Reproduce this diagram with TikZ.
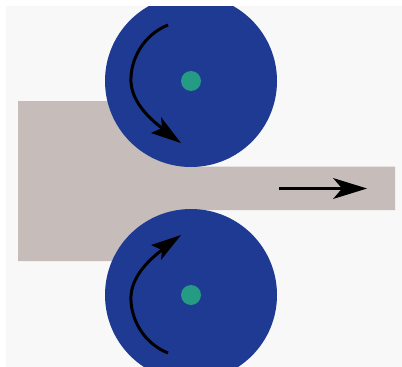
\documentclass[tikz,border=0pt]{standalone}
\definecolor{panelbg}{HTML}{F8F8F8}
\definecolor{slabc}{HTML}{C6BDBB}
\definecolor{rollc}{HTML}{1F3A93}
\definecolor{axlec}{HTML}{259B84}
\tikzset{
  x=1pt,y=-1pt,
  rollshape/.style={fill=rollc,draw=none},
  axleshape/.style={fill=axlec,draw=none},
  shaft/.style={draw=black,line width=3pt},
  headshape/.style={fill=black,draw=none}
}
\begin{document}
\begin{tikzpicture}
\useasboundingbox (0,0) rectangle (402,367);
\fill[white] (0,0) rectangle (402,367);
\begin{scope}
\clip (6,6) rectangle (402,367);
\fill[panelbg] (6,6) rectangle (402,367);
\fill[slabc] (18,101) -- (191,101) -- (191,166.5) -- (395,166.5) -- (395,210) -- (191,210) -- (191,261) -- (18,261) -- cycle;
\fill[rollshape] (191,81) circle[radius=86];
\fill[rollshape] (191,295) circle[radius=86];
\end{scope}
\fill[axleshape] (191,81) circle[radius=10];
\fill[axleshape] (191,295) circle[radius=10];
\coordinate (s1) at (168,25);
\coordinate (n1) at (162,128);
\coordinate (s2) at (168,353);
\coordinate (n2) at (162,250);
\coordinate (s3) at (279,188.5);
\coordinate (n3) at (342,188.5);
\draw[shaft] (s1) .. controls (143,35) and (130,60) .. (131,82) .. controls (132,100) and (146,116) .. (n1);
\fill[headshape] (181,143) -- (151,133) -- (n1) -- (161,117) -- cycle;
\draw[shaft] (s2) .. controls (143,343) and (130,318) .. (131,296) .. controls (132,278) and (146,262) .. (n2);
\fill[headshape] (181,235) -- (151,245) -- (n2) -- (161,260) -- cycle;
\draw[shaft] (s3) -- (n3);
\fill[headshape] (367,188.5) -- (333,178) -- (n3) -- (333,199) -- cycle;
\end{tikzpicture}
\end{document}
